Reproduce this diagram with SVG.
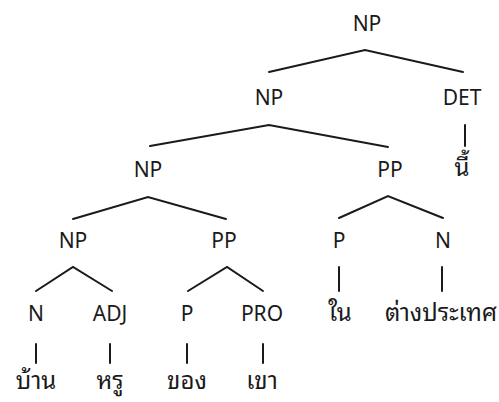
<svg xmlns="http://www.w3.org/2000/svg" width="499" height="402" viewBox="0 0 499 402">
  <style>
    .lbl { font-family: "Noto Sans", "Open Sans", "Liberation Sans", sans-serif; font-size: 21px; fill: #1a1a1a; text-anchor: middle; }
    .th { font-family: "Noto Sans Thai Looped", "Tlwg Typo", "Loma", "Noto Sans Thai", "Noto Sans", sans-serif; font-size: 24px; fill: #1a1a1a; text-anchor: middle; }
    .edge { stroke: #1a1a1a; stroke-width: 2; fill: none; stroke-linecap: round; }
  </style>
  <rect width="499" height="402" fill="#ffffff"/>

  <!-- tree branches -->
  <g id="connectors" class="edge">
    <path d="M269,72 L365,50 L463,72"/>
    <path d="M150,146 L269,125 L388,147"/>
    <path d="M465,125 L465,146"/>
    <path d="M73,219 L148,197 L226,219"/>
    <path d="M339,218 L388,196 L443,218"/>
    <path d="M339,267 L339,291"/>
    <path d="M442,267 L442,291"/>
    <path d="M36,291 L73,267 L112,291"/>
    <path d="M188,291 L227,267 L263,291"/>
    <path d="M36,344 L36,363"/>
    <path d="M110,344 L110,363"/>
    <path d="M187,344 L187,363"/>
    <path d="M263,344 L263,363"/>
  </g>

  <!-- phrase and word nodes -->
  <g id="np-root"><text class="lbl" x="367" y="31">NP</text></g>
  <g id="np-1"><text class="lbl" x="269" y="105">NP</text></g>
  <g id="det"><text class="lbl" x="462" y="105">DET</text></g>
  <g id="det-word"><text class="th" x="462" y="176">นี้</text></g>
  <g id="np-2"><text class="lbl" x="148" y="177">NP</text></g>
  <g id="pp-1"><text class="lbl" x="390" y="177">PP</text></g>
  <g id="np-3"><text class="lbl" x="73" y="248">NP</text></g>
  <g id="pp-2"><text class="lbl" x="224" y="248">PP</text></g>
  <g id="p-1"><text class="lbl" x="339" y="248">P</text></g>
  <g id="n-1"><text class="lbl" x="443" y="248">N</text></g>
  <g id="p-1-word"><text class="th" x="340" y="321">ใน</text></g>
  <g id="n-1-word"><text class="th" x="441" y="321">ต่างประเทศ</text></g>
  <g id="n-2"><text class="lbl" x="36" y="321">N</text></g>
  <g id="adj"><text class="lbl" x="110" y="321">ADJ</text></g>
  <g id="p-2"><text class="lbl" x="187" y="321">P</text></g>
  <g id="pro"><text class="lbl" x="262" y="321">PRO</text></g>
  <g id="n-2-word"><text class="th" x="36" y="389">บ้าน</text></g>
  <g id="adj-word"><text class="th" x="110" y="389">หรู</text></g>
  <g id="p-2-word"><text class="th" x="187" y="389">ของ</text></g>
  <g id="pro-word"><text class="th" x="262" y="389">เขา</text></g>
</svg>
